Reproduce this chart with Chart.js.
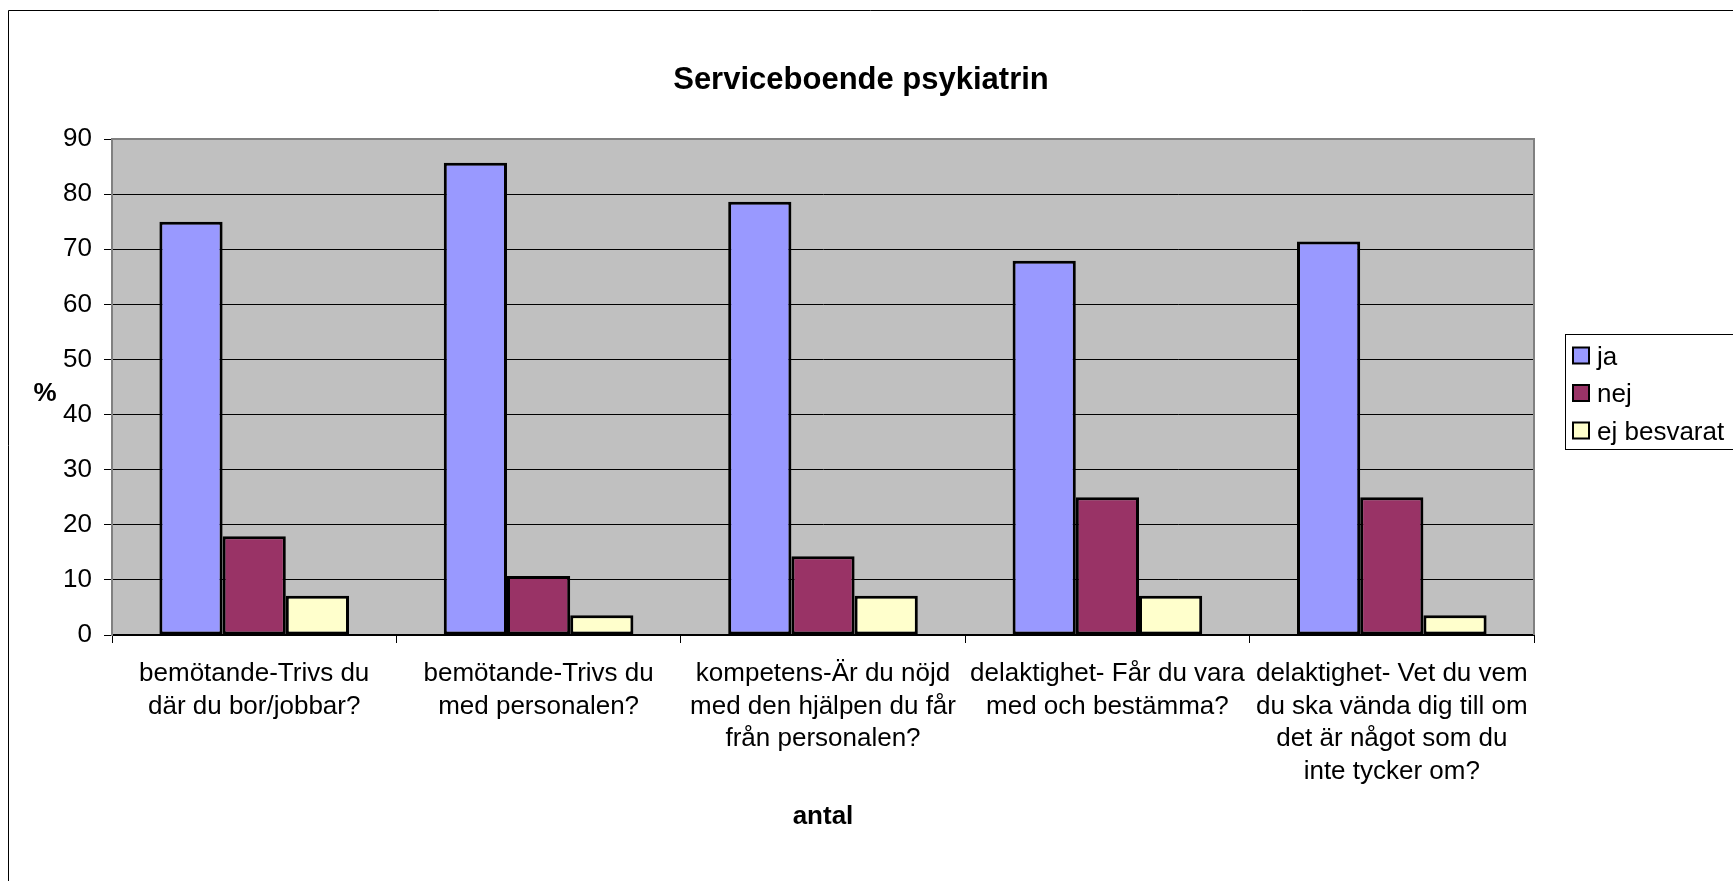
<!DOCTYPE html>
<html>
<head>
<meta charset="utf-8">
<script src="https://cdn.jsdelivr.net/npm/chart.js@4.4.1/dist/chart.umd.min.js"></script>
<style>
html,body{margin:0;padding:0;background:#fff;overflow:hidden}
#wrap{position:relative;width:1733px;height:881px}
</style>
</head>
<body>
<div id="wrap"><canvas id="c" width="1733" height="881"></canvas></div>
<script>
// ---- data ----
const chartTitle = 'Serviceboende psykiatrin';
const yAxisTitle = '%';
const xAxisTitle = 'antal';
const categories = [
  ['bemötande-Trivs du', 'där du bor/jobbar?'],
  ['bemötande-Trivs du', 'med personalen?'],
  ['kompetens-Är du nöjd', 'med den hjälpen du får', 'från personalen?'],
  ['delaktighet- Får du vara', 'med och bestämma?'],
  ['delaktighet- Vet du vem', 'du ska vända dig till om', 'det är något som du', 'inte tycker om?']
];
const seriesNames = ['ja', 'nej', 'ej besvarat'];
const jaValues = [75.0, 85.7, 78.6, 67.9, 71.4];
const nejValues = [17.9, 10.7, 14.3, 25.0, 25.0];
const ejBesvaratValues = [7.1, 3.6, 7.1, 7.1, 3.6];
const yTicks = [0, 10, 20, 30, 40, 50, 60, 70, 80, 90];
const seriesColors = ['#9999FF', '#993366', '#FFFFCC'];

const FONT = "'Liberation Sans', Arial, Helvetica, sans-serif";

const decorPlugin = {
  id: 'decor',
  beforeDraw(chart) {
    const ctx = chart.ctx, a = chart.chartArea;
    ctx.save();
    ctx.fillStyle = '#ffffff';
    ctx.fillRect(0, 0, chart.width, chart.height);
    // outer chart border
    ctx.strokeStyle = '#000000';
    ctx.lineWidth = 1;
    ctx.beginPath();
    ctx.moveTo(8.5, chart.height);
    ctx.lineTo(8.5, 10.5);
    ctx.lineTo(chart.width, 10.5);
    ctx.stroke();
    // plot background
    ctx.fillStyle = '#C0C0C0';
    ctx.fillRect(a.left, a.top, a.right - a.left, a.bottom - a.top);
    ctx.restore();
  },
  afterDatasetsDraw(chart) {
    const ctx = chart.ctx, a = chart.chartArea;
    ctx.save();
    ctx.strokeStyle = '#808080';
    ctx.lineWidth = 2;
    ctx.beginPath();
    ctx.moveTo(a.left, a.top);
    ctx.lineTo(a.right, a.top);
    ctx.lineTo(a.right, a.bottom);
    ctx.stroke();
    ctx.restore();
  },
  afterDraw(chart) {
    const ctx = chart.ctx, a = chart.chartArea;
    ctx.save();
    ctx.fillStyle = '#000';
    ctx.textAlign = 'center';
    ctx.textBaseline = 'alphabetic';
    // title
    ctx.font = 'bold 31px ' + FONT;
    ctx.fillText(chartTitle, (a.left + a.right) / 2 + 38, 89);
    // axis titles
    ctx.font = 'bold 26px ' + FONT;
    ctx.fillText(yAxisTitle, 45, 401);
    ctx.fillText(xAxisTitle, (a.left + a.right) / 2, 824);
    // legend
    const lx = a.right + 31, ly = 334;
    ctx.strokeStyle = '#000';
    ctx.lineWidth = 1;
    ctx.strokeRect(lx + 0.5, ly + 0.5, 210, 115);
    ctx.textAlign = 'left';
    ctx.font = '26px ' + FONT;
    chart.data.datasets.forEach((ds, i) => {
      const cy = ly + 21.5 + i * 37.5;
      ctx.fillStyle = ds.backgroundColor;
      ctx.fillRect(lx + 8, cy - 8, 16, 16);
      ctx.lineWidth = 2;
      ctx.strokeRect(lx + 8, cy - 8, 16, 16);
      ctx.fillStyle = '#000';
      ctx.fillText(ds.label, lx + 32, cy + 9);
    });
    ctx.restore();
  }
};

const dataArrays = [jaValues, nejValues, ejBesvaratValues];

new Chart(document.getElementById('c'), {
  type: 'bar',
  data: {
    labels: categories,
    datasets: seriesNames.map((name, i) => ({
      label: name,
      data: dataArrays[i],
      backgroundColor: seriesColors[i],
      borderColor: '#000000',
      borderWidth: 3,
      borderSkipped: false,
      categoryPercentage: 0.6667,
      barPercentage: 1.0
    }))
  },
  options: {
    responsive: false,
    animation: false,
    devicePixelRatio: 1,
    layout: { padding: { left: 10, top: 139, right: 199, bottom: 16 } },
    plugins: {
      legend: { display: false },
      title: { display: false },
      tooltip: { enabled: false }
    },
    scales: {
      x: {
        grid: { offset: true, drawOnChartArea: false, drawTicks: true, tickLength: 8, color: '#000', lineWidth: 1 },
        border: { display: true, color: '#000', width: 2 },
        ticks: {
          color: '#000',
          font: { family: FONT, size: 26, lineHeight: 1.25 },
          padding: 15,
          maxRotation: 0,
          minRotation: 0,
          autoSkip: false
        },
        afterFit: s => { s.height = 230; }
      },
      y: {
        min: 0,
        max: 90,
        afterBuildTicks: s => { s.ticks = yTicks.map(v => ({ value: v })); },
        ticks: { color: '#000', font: { family: FONT, size: 26 }, padding: 12 },
        grid: { color: '#000', lineWidth: 1, tickLength: 8, drawTicks: true },
        border: { display: true, color: '#808080', width: 2 },
        afterFit: s => { s.width = 102; }
      }
    }
  },
  plugins: [decorPlugin]
});
</script>
</body>
</html>
